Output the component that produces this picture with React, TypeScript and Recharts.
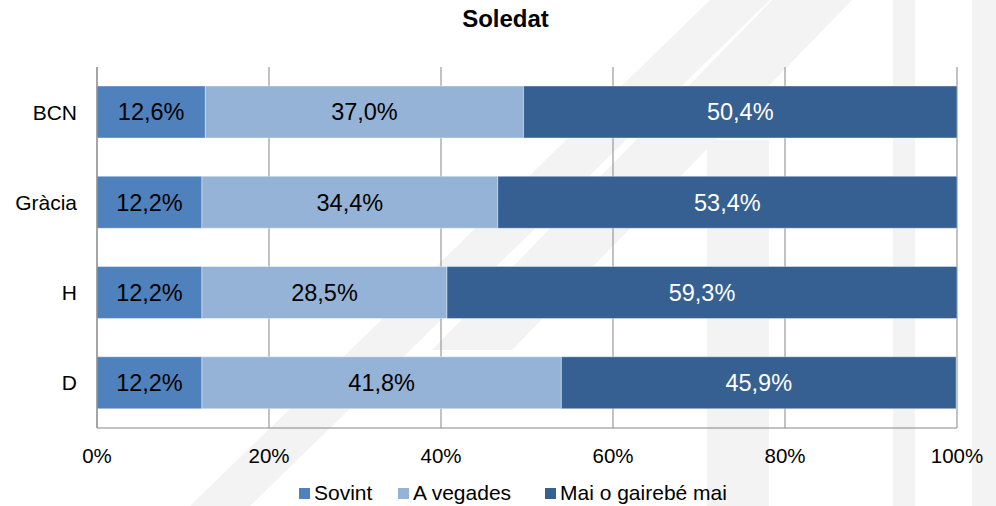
import { BarChart, Bar, XAxis, YAxis, CartesianGrid, Legend, LabelList } from "recharts";

const categories = ["BCN", "Gràcia", "H", "D"];
const sovint = [12.6, 12.2, 12.2, 12.2];
const aVegades = [37.0, 34.4, 28.5, 41.8];
const maiGairebe = [50.4, 53.4, 59.3, 45.9];
const xTicks = [0, 20, 40, 60, 80, 100];

const seriesList = [
  { key: "sovint", name: "Sovint", color: "#4F81BD", label: "#000000", legendX: 299 },
  { key: "aVegades", name: "A vegades", color: "#95B3D7", label: "#000000", legendX: 398 },
  { key: "mai", name: "Mai o gairebé mai", color: "#376092", label: "#ffffff", legendX: 545 },
];

const rows = categories.map((c, i) => ({
  name: c,
  sovint: sovint[i],
  aVegades: aVegades[i],
  mai: maiGairebe[i],
}));

const FONT = '"Liberation Sans", Arial, sans-serif';
const fmtPct = (v: any) => `${Number(v).toFixed(1).replace(".", ",")}%`;

function LegendBox() {
  return (
    <div style={{ position: "relative", width: 996, height: 24, fontFamily: FONT, fontSize: 21, color: "#000" }}>
      {seriesList.map((s) => (
        <div key={s.key} style={{ position: "absolute", left: s.legendX, top: 0, display: "flex", alignItems: "center", height: 24, whiteSpace: "nowrap" }}>
          <span style={{ display: "inline-block", width: 11, height: 11, background: s.color, marginRight: 4 }} />
          <span>{s.name}</span>
        </div>
      ))}
    </div>
  );
}

// faint background logo of the original image
function Watermark() {
  const c = "#f3f3f3";
  return (
    <svg width={996} height={506} style={{ position: "absolute", left: 0, top: 0 }}>
      <polygon points="190,506 250,506 770,0 710,0" fill={c} />
      <polygon points="432,350 512,350 852,0 772,0" fill={c} />
      <rect x={707} y={140} width={62} height={366} fill={c} />
      <rect x={893} y={0} width={22} height={506} fill={c} />
      <rect x={972} y={0} width={24} height={506} fill={c} />
    </svg>
  );
}

export default function App() {
  return (
    <div style={{ position: "absolute", left: 0, top: 0, width: 996, height: 506, background: "#fff", fontFamily: FONT }}>
      <Watermark />
      <div style={{ position: "absolute", left: 0, width: 1011, top: 5, textAlign: "center", fontWeight: "bold", fontSize: 24, color: "#000" }}>
        Soledat
      </div>
      <div style={{ position: "absolute", left: 0, top: 0 }}>
        <BarChart
          layout="vertical"
          width={996}
          height={506}
          data={rows}
          margin={{ top: 67, right: 39, bottom: 38, left: 0 }}
          style={{ fontFamily: FONT }}
        >
          <CartesianGrid horizontal={false} stroke="#868686" />
          <XAxis
            type="number"
            domain={[0, 100]}
            ticks={xTicks}
            allowDataOverflow
            tickFormatter={(v) => `${v}%`}
            height={40}
            axisLine={{ stroke: "#868686" }}
            tickLine={false}
            tickSize={6}
            tickMargin={14}
            tick={{ fill: "#000", fontSize: 20.5 }}
          />
          <YAxis
            type="category"
            dataKey="name"
            width={97}
            axisLine={{ stroke: "#868686" }}
            tickLine={false}
            tickSize={6}
            tickMargin={14}
            tick={{ fill: "#000", fontSize: 21 }}
          />
          <Legend
            layout="horizontal"
            verticalAlign="middle"
            align="center"
            wrapperStyle={{ top: 481, left: 0, width: 996 }}
            content={() => <LegendBox />}
          />
          {seriesList.map((s) => (
            <Bar
              key={s.key}
              dataKey={s.key}
              name={s.name}
              stackId="a"
              fill={s.color}
              barSize={52}
              stroke="#ffffff"
              strokeOpacity={0.5}
              strokeWidth={0.75}
              isAnimationActive={false}
            >
              <LabelList dataKey={s.key} position="center" formatter={fmtPct} fill={s.label} fontSize={23.5} />
            </Bar>
          ))}
        </BarChart>
      </div>
    </div>
  );
}
